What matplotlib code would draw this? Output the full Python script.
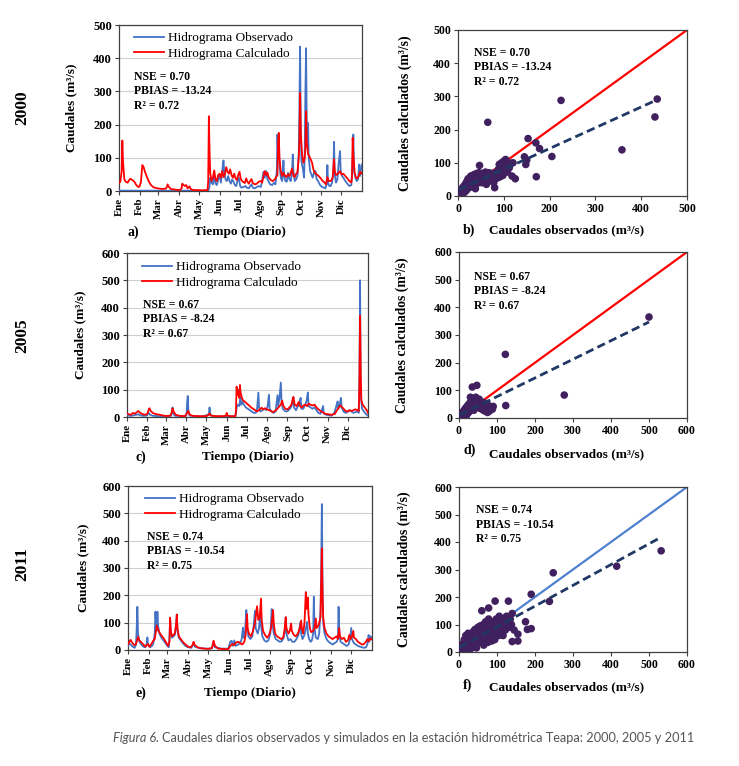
import matplotlib
matplotlib.use('Agg')
import matplotlib.pyplot as plt

W, H = 739, 766
DPI = 100

# ---------------- data ----------------
months = ['Ene', 'Feb', 'Mar', 'Abr', 'May', 'Jun', 'Jul', 'Ago', 'Sep', 'Oct', 'Nov', 'Dic']
month_start = [0, 31, 59, 90, 120, 151, 181, 212, 243, 273, 304, 334]

obs_2000 = [(0, 1), (60, 1), (134, 1), (135, 5), (136, 15), (137, 40), (139, 25), (141, 20), (143, 45), (145, 22),
            (147, 18), (149, 35), (151, 50), (153, 25), (155, 55), (156, 80), (157, 92), (158, 55), (160, 35),
            (162, 30), (164, 45), (166, 30), (168, 22), (170, 35), (172, 28), (174, 18), (176, 15), (178, 30),
            (180, 40), (182, 15), (184, 10), (187, 12), (190, 15), (192, 10), (195, 8), (197, 15), (199, 20),
            (201, 10), (204, 8), (207, 12), (210, 15), (213, 12), (215, 30), (217, 58), (219, 40), (221, 60),
            (223, 35), (225, 28), (227, 20), (230, 18), (233, 25), (235, 20), (237, 60), (238, 170), (239, 100),
            (240, 172), (241, 80), (243, 40), (245, 30), (246, 50), (247, 92), (248, 45), (250, 30), (252, 28),
            (254, 55), (256, 35), (258, 30), (260, 60), (261, 110), (262, 60), (264, 30), (266, 35), (268, 45),
            (270, 115), (271, 250), (272, 435), (273, 200), (274, 90), (276, 70), (278, 40), (279, 120),
            (280, 300), (281, 430), (282, 200), (283, 150), (284, 205), (285, 100), (287, 60), (289, 50),
            (291, 40), (293, 55), (295, 60), (297, 35), (299, 30), (302, 18), (305, 12), (308, 10), (310, 8),
            (312, 20), (313, 78), (314, 25), (316, 15), (318, 15), (320, 25), (322, 60), (323, 148), (324, 50),
            (326, 25), (328, 35), (330, 85), (332, 120), (333, 60), (335, 45), (337, 40), (340, 30), (343, 22),
            (346, 15), (349, 18), (351, 100), (352, 170), (353, 60), (355, 40), (357, 30), (359, 35), (361, 80),
            (362, 45), (364, 70), (365, 80)]

calc_2000 = [(0, 25), (2, 28), (4, 60), (5, 152), (6, 90), (8, 35), (10, 28), (13, 25), (15, 32), (17, 37),
             (20, 33), (23, 28), (26, 18), (29, 12), (31, 14), (33, 28), (35, 78), (37, 72), (39, 58), (42, 42),
             (45, 28), (48, 18), (52, 11), (58, 8), (65, 6), (70, 7), (72, 12), (73, 20), (75, 12), (78, 6),
             (85, 4), (92, 3), (94, 8), (95, 22), (97, 18), (99, 15), (101, 18), (103, 8), (105, 12), (106, 14),
             (108, 5), (112, 3), (125, 2), (133, 3), (134, 30), (135, 225), (136, 120), (137, 55), (139, 30),
             (141, 40), (143, 62), (145, 35), (147, 30), (149, 48), (151, 52), (153, 40), (155, 60), (157, 42),
             (159, 50), (161, 72), (163, 58), (165, 52), (167, 65), (169, 48), (171, 40), (173, 52), (175, 38),
             (177, 33), (179, 48), (181, 58), (183, 35), (186, 28), (189, 24), (191, 38), (193, 28), (195, 22),
             (197, 30), (199, 36), (201, 24), (204, 20), (207, 22), (210, 28), (213, 30), (215, 25), (217, 45),
             (219, 60), (221, 48), (223, 55), (225, 40), (228, 33), (231, 30), (234, 35), (236, 42), (238, 48),
             (239, 150), (240, 175), (241, 100), (243, 60), (245, 45), (247, 55), (249, 48), (251, 42), (254, 50),
             (256, 45), (258, 55), (260, 68), (262, 45), (264, 42), (266, 52), (268, 55), (270, 100), (271, 150),
             (272, 295), (273, 180), (275, 110), (277, 85), (279, 100), (280, 130), (281, 240), (282, 150),
             (284, 110), (286, 105), (288, 95), (290, 85), (292, 65), (294, 55), (297, 50), (300, 45), (303, 38),
             (306, 30), (309, 25), (311, 20), (313, 42), (315, 30), (318, 30), (321, 40), (323, 95), (324, 60),
             (326, 48), (329, 52), (332, 60), (334, 50), (337, 52), (340, 45), (343, 38), (346, 30), (349, 26),
             (350, 40), (351, 160), (352, 110), (354, 55), (356, 40), (358, 38), (360, 45), (362, 58), (364, 52),
             (365, 55)]

obs_2005 = [(0, 8), (3, 5), (6, 4), (10, 6), (14, 8), (17, 10), (20, 6), (25, 4), (30, 5), (33, 15), (35, 8),
            (40, 4), (50, 3), (60, 2), (67, 5), (68, 20), (69, 35), (70, 15), (72, 5), (80, 3), (90, 5), (91, 50),
            (92, 77), (93, 20), (95, 5), (105, 3), (115, 2), (124, 10), (125, 35), (126, 10), (130, 3), (145, 2),
            (150, 3), (151, 8), (152, 3), (164, 2), (165, 10), (166, 35), (168, 45), (170, 40), (172, 73),
            (173, 45), (175, 55), (177, 45), (180, 35), (183, 30), (186, 25), (189, 20), (192, 15), (195, 15),
            (197, 30), (199, 89), (200, 35), (202, 20), (205, 25), (208, 30), (211, 25), (213, 40), (215, 82),
            (216, 30), (219, 20), (222, 15), (225, 20), (228, 80), (229, 40), (231, 70), (233, 126), (234, 60),
            (236, 30), (239, 22), (242, 20), (245, 25), (248, 35), (250, 45), (252, 73), (253, 35), (256, 25),
            (259, 40), (261, 50), (263, 70), (264, 30), (267, 30), (270, 45), (272, 60), (274, 90), (275, 40),
            (278, 35), (281, 30), (284, 35), (287, 25), (290, 15), (293, 12), (295, 25), (297, 40), (298, 12),
            (302, 8), (306, 6), (310, 5), (314, 15), (317, 40), (319, 57), (320, 30), (322, 45), (324, 70),
            (325, 35), (328, 20), (331, 15), (334, 18), (337, 25), (340, 20), (343, 15), (346, 18), (349, 20),
            (351, 15), (352, 150), (353, 500), (354, 80), (356, 30), (359, 20), (362, 10), (365, 5)]

calc_2005 = [(0, 13), (3, 10), (6, 8), (9, 15), (12, 12), (15, 18), (17, 22), (20, 15), (24, 10), (28, 8),
             (31, 12), (33, 28), (34, 32), (36, 22), (39, 15), (42, 12), (45, 10), (50, 8), (55, 5), (60, 4),
             (66, 5), (68, 20), (69, 32), (71, 18), (74, 8), (80, 4), (88, 3), (91, 15), (93, 22), (95, 8),
             (100, 4), (110, 3), (120, 3), (124, 8), (125, 13), (127, 5), (135, 3), (145, 3), (150, 5), (151, 15),
             (152, 5), (158, 3), (164, 3), (165, 20), (166, 111), (167, 80), (169, 98), (170, 70), (171, 117),
             (172, 90), (174, 70), (176, 60), (179, 55), (182, 48), (185, 42), (188, 35), (191, 30), (194, 25),
             (197, 20), (199, 24), (202, 30), (204, 34), (206, 28), (209, 32), (212, 28), (215, 25), (218, 22),
             (221, 18), (224, 22), (227, 28), (230, 37), (233, 45), (235, 60), (237, 40), (240, 30), (243, 28),
             (246, 35), (249, 45), (251, 65), (252, 73), (254, 45), (257, 40), (260, 55), (262, 40), (265, 35),
             (267, 42), (270, 45), (273, 40), (275, 49), (278, 45), (281, 42), (284, 45), (287, 35), (290, 28),
             (293, 22), (296, 18), (300, 12), (305, 10), (310, 8), (315, 12), (318, 25), (321, 35), (323, 42),
             (325, 38), (328, 30), (331, 22), (334, 20), (337, 25), (340, 22), (343, 25), (346, 28), (349, 25),
             (351, 22), (352, 120), (353, 370), (354, 150), (355, 60), (357, 45), (360, 35), (363, 25), (365, 15)]

obs_2011 = [(0, 15), (2, 25), (4, 20), (7, 12), (10, 8), (12, 20), (13, 80), (14, 158), (15, 60), (17, 30),
            (20, 20), (23, 12), (26, 10), (28, 25), (29, 46), (30, 20), (33, 10), (36, 15), (38, 25), (40, 60),
            (41, 140), (42, 100), (43, 70), (44, 140), (45, 90), (47, 60), (50, 45), (53, 35), (56, 25), (59, 15),
            (61, 10), (62, 40), (63, 115), (64, 60), (66, 45), (68, 50), (70, 55), (72, 90), (73, 128), (74, 70),
            (76, 45), (79, 35), (82, 25), (86, 15), (90, 10), (95, 8), (98, 25), (100, 12), (105, 8), (115, 5),
            (125, 5), (128, 30), (130, 10), (140, 5), (150, 5), (153, 30), (155, 34), (157, 15), (159, 35),
            (161, 15), (165, 20), (168, 25), (170, 40), (172, 82), (173, 45), (175, 60), (177, 146), (178, 90),
            (180, 50), (183, 40), (186, 50), (188, 90), (190, 144), (191, 80), (194, 60), (196, 80), (198, 140),
            (199, 90), (201, 50), (204, 35), (207, 30), (210, 35), (213, 60), (215, 150), (216, 100), (218, 60),
            (221, 40), (224, 35), (227, 30), (230, 32), (233, 45), (235, 80), (236, 120), (237, 60), (240, 35),
            (243, 40), (246, 30), (249, 30), (252, 40), (255, 55), (258, 103), (259, 60), (261, 40), (264, 55),
            (266, 80), (268, 103), (269, 60), (271, 40), (273, 30), (275, 35), (277, 60), (278, 195), (279, 80),
            (281, 45), (284, 40), (286, 60), (288, 150), (289, 300), (290, 534), (291, 250), (292, 100), (294, 60),
            (297, 40), (300, 30), (303, 25), (306, 20), (309, 25), (312, 30), (314, 40), (315, 158), (316, 60),
            (318, 30), (321, 25), (324, 20), (327, 15), (330, 20), (332, 40), (334, 81), (335, 40), (338, 25),
            (341, 20), (344, 15), (347, 12), (350, 10), (353, 8), (356, 10), (358, 20), (360, 55), (361, 30),
            (363, 50), (365, 40)]

calc_2011 = [(0, 20), (2, 30), (4, 37), (6, 28), (9, 18), (12, 22), (14, 40), (15, 48), (17, 35), (20, 28),
             (23, 20), (26, 12), (28, 18), (30, 22), (32, 12), (35, 22), (38, 35), (40, 40), (42, 70), (43, 90),
             (45, 75), (48, 60), (51, 50), (54, 40), (57, 28), (60, 15), (62, 30), (63, 118), (64, 70), (66, 50),
             (68, 55), (70, 60), (72, 95), (73, 130), (74, 80), (76, 50), (79, 40), (82, 30), (86, 20), (90, 12),
             (94, 10), (97, 20), (98, 30), (100, 18), (104, 10), (110, 6), (120, 4), (126, 8), (128, 34), (130, 15),
             (135, 5), (145, 3), (150, 3), (153, 15), (156, 22), (159, 18), (162, 28), (165, 30), (168, 25),
             (171, 20), (174, 30), (176, 55), (178, 131), (179, 80), (181, 60), (184, 50), (187, 70), (190, 100),
             (193, 160), (195, 110), (197, 120), (199, 188), (200, 110), (202, 70), (205, 55), (208, 45), (211, 55),
             (214, 80), (216, 120), (217, 146), (218, 100), (220, 60), (223, 50), (226, 45), (229, 40), (232, 45),
             (234, 70), (236, 120), (237, 80), (240, 60), (242, 70), (244, 97), (245, 70), (248, 55), (251, 50),
             (254, 60), (257, 80), (259, 108), (260, 80), (262, 60), (264, 100), (266, 212), (267, 150), (269, 192),
             (270, 130), (272, 80), (274, 65), (277, 70), (279, 80), (281, 115), (282, 80), (285, 90), (288, 120),
             (289, 250), (290, 372), (291, 200), (292, 120), (294, 80), (297, 60), (300, 50), (303, 45), (306, 40),
             (309, 45), (312, 50), (314, 40), (315, 60), (316, 80), (317, 50), (320, 40), (323, 45), (326, 30),
             (329, 35), (331, 55), (333, 40), (335, 50), (337, 70), (338, 45), (341, 40), (344, 30), (347, 25),
             (350, 20), (353, 22), (356, 30), (358, 40), (360, 32), (362, 42), (365, 38)]

scatter_2000 = [(2, 3), (4, 8), (5, 15), (6, 5), (8, 12), (9, 20), (10, 25), (11, 8), (12, 18), (13, 30), (14, 22),
                (15, 12), (16, 35), (17, 28), (18, 40), (19, 18), (20, 45), (21, 30), (22, 52), (23, 38), (24, 25),
                (25, 48), (26, 55), (27, 35), (28, 60), (29, 42), (30, 28), (31, 50), (32, 62), (33, 45), (34, 35),
                (35, 55), (36, 65), (37, 40), (38, 22), (39, 58), (40, 48), (41, 68), (42, 38), (43, 55), (44, 62),
                (45, 45), (46, 70), (47, 92), (48, 52), (50, 60), (52, 40), (53, 68), (55, 55), (56, 48), (58, 62),
                (60, 72), (61, 50), (62, 35), (63, 58), (65, 222), (65, 65), (67, 45), (68, 70), (70, 55), (72, 62),
                (73, 48), (75, 68), (77, 58), (78, 40), (80, 25), (80, 65), (82, 52), (84, 72), (85, 60), (87, 55),
                (88, 80), (90, 95), (90, 65), (92, 58), (94, 85), (95, 100), (96, 70), (98, 62), (100, 105),
                (100, 90), (102, 78), (104, 110), (106, 95), (108, 72), (110, 100), (112, 85), (115, 98), (118, 60),
                (120, 100), (125, 52), (145, 118), (148, 95), (150, 108), (153, 173), (170, 160), (171, 58),
                (178, 143), (205, 119), (225, 288), (358, 139), (430, 238), (435, 292)]

scatter_2005 = [(1, 2), (2, 5), (3, 1), (4, 8), (5, 3), (6, 12), (7, 6), (8, 15), (9, 4), (10, 20), (11, 10),
                (12, 25), (13, 7), (14, 18), (15, 30), (16, 12), (17, 35), (18, 22), (19, 8), (20, 40), (21, 28),
                (22, 15), (23, 45), (24, 32), (25, 20), (26, 50), (27, 38), (28, 25), (29, 55), (30, 75), (31, 42),
                (32, 30), (33, 60), (34, 48), (35, 112), (36, 35), (37, 65), (38, 52), (39, 28), (40, 70), (41, 45),
                (42, 58), (43, 38), (44, 75), (45, 50), (46, 62), (47, 118), (48, 40), (50, 55), (52, 45), (53, 68),
                (55, 35), (56, 50), (58, 42), (60, 58), (62, 30), (63, 48), (65, 38), (66, 55), (68, 25), (70, 45),
                (72, 35), (74, 52), (75, 20), (76, 30), (78, 42), (80, 25), (82, 38), (85, 40), (88, 32), (90, 42),
                (122, 230), (123, 45), (277, 83), (500, 365)]

scatter_2011 = [(2, 5), (4, 12), (5, 2), (6, 20), (8, 8), (10, 30), (12, 15), (14, 45), (15, 5), (16, 25),
                (18, 60), (18, 35), (20, 12), (22, 42), (24, 68), (25, 22), (26, 50), (28, 30), (30, 58), (30, 10),
                (32, 40), (34, 65), (35, 20), (36, 48), (38, 75), (40, 55), (40, 30), (42, 82), (44, 45), (45, 62),
                (46, 15), (48, 70), (50, 90), (50, 50), (52, 35), (54, 78), (55, 60), (56, 95), (58, 42), (60, 70),
                (60, 150), (62, 85), (63, 55), (64, 100), (65, 25), (66, 65), (68, 90), (70, 110), (70, 48), (72, 75),
                (74, 60), (75, 95), (76, 35), (78, 120), (78, 160), (80, 80), (82, 55), (84, 100), (85, 70), (86, 40),
                (88, 90), (90, 110), (90, 60), (92, 75), (94, 45), (95, 185), (96, 95), (98, 120), (100, 70),
                (100, 100), (102, 85), (105, 60), (106, 130), (108, 95), (110, 75), (112, 110), (115, 90), (116, 60),
                (118, 120), (120, 100), (122, 80), (125, 130), (128, 110), (130, 185), (132, 90), (135, 120),
                (138, 100), (140, 140), (140, 38), (145, 80), (155, 65), (155, 40), (175, 110), (180, 82), (190, 85),
                (190, 210), (238, 184), (248, 288), (415, 312), (532, 368)]

# trend lines: (value at x=0, value at x end, x end)
trend_2000 = (18, 290, 435)
trend_2005 = (10, 347, 500)
trend_2011 = (16, 416, 530)

stats_2000 = ['NSE = 0.70', 'PBIAS = -13.24', 'R\u00b2 = 0.72']
stats_2005 = ['NSE = 0.67', 'PBIAS = -8.24', 'R\u00b2 = 0.67']
stats_2011 = ['NSE = 0.74', 'PBIAS = -10.54', 'R\u00b2 = 0.75']

years = ['2000', '2005', '2011']

# ---------------- style ----------------
SERIF = 'Liberation Serif'
BLUE = '#4472c4'
RED = '#ff0000'
DOT = '#41205f'
NAVY = '#1f3864'
LINE11_F = '#4f81d0'
SPINE = '#404040'

plt.rcParams['font.family'] = SERIF

fig = plt.figure(figsize=(W / DPI, H / DPI), dpi=DPI)


def rect(x0, x1, y0, y1):
    return [x0 / W, 1 - y1 / H, (x1 - x0) / W, (y1 - y0) / H]


def ftext(x, y, s, **kw):
    return fig.text(x / W, 1 - y / H, s, **kw)


def style_axes(ax, tick_fs):
    for sp in ax.spines.values():
        sp.set_color(SPINE)
        sp.set_linewidth(0.9)
    ax.tick_params(direction='out', length=3, width=0.8, color=SPINE, pad=2)
    for lab in ax.get_xticklabels() + ax.get_yticklabels():
        lab.set_fontweight('bold')
        lab.set_fontsize(tick_fs)


def hydro(box, obs, calc, ymax, ylab_off, leg_off):
    x0, x1, y0, y1 = box
    ax = fig.add_axes(rect(*box))
    d, v = zip(*obs)
    ax.plot(d, v, color=BLUE, lw=1.3, label='Hidrograma Observado', zorder=3)
    d, v = zip(*calc)
    ax.plot(d, v, color=RED, lw=1.3, label='Hidrograma Calculado', zorder=4)
    ax.set_xlim(0, 365)
    ax.set_ylim(0, ymax)
    ax.set_yticks(range(0, ymax + 1, 100))
    ax.set_xticks(month_start)
    ax.set_xticklabels(months, rotation=90)
    ax.yaxis.grid(True, color='#d0d0d0', lw=0.8)
    ax.set_axisbelow(True)
    style_axes(ax, 9)
    for lab in ax.get_xticklabels():
        lab.set_fontsize(7.8)
    ax.set_ylabel('Caudales (m\u00b3/s)', fontsize=9.5, fontweight='bold')
    ax.yaxis.set_label_coords(-ylab_off / (x1 - x0), 0.5)
    lx, ly = leg_off
    ax.legend(loc='upper left', bbox_to_anchor=(lx / (x1 - x0), 1 - ly / (y1 - y0)),
              frameon=False, fontsize=9.5, handlelength=2.3, handletextpad=0.25,
              borderpad=0, borderaxespad=0, labelspacing=0.25)
    return ax


def scat(box, pts, lim, line_color, trend, ylab_off):
    x0, x1, y0, y1 = box
    ax = fig.add_axes(rect(*box))
    ax.plot([0, lim], [0, lim], color=line_color, lw=1.6, zorder=2)
    xs, ys = zip(*pts)
    ax.scatter(xs, ys, s=30, color=DOT, edgecolors='none', zorder=3)
    b0, b1, xe = trend
    ax.plot([2, xe], [b0 + (b1 - b0) * 2 / xe, b1], color=NAVY, lw=2.0, ls=(0, (3, 1.6)), zorder=4)
    ax.set_xlim(0, lim)
    ax.set_ylim(0, lim)
    ax.set_xticks(range(0, lim + 1, 100))
    ax.set_yticks(range(0, lim + 1, 100))
    style_axes(ax, 8.5)
    ax.set_ylabel('Caudales calculados (m\u00b3/s)', fontsize=9.8, fontweight='bold')
    ax.yaxis.set_label_coords(-ylab_off / (x1 - x0), 0.5)
    return ax


def stats_block(x, y, lines):
    for i, s in enumerate(lines):
        ftext(x, y + i * 14.5, s, fontsize=8.5, fontweight='bold', va='center', ha='left')


# ---------- row 1 (2000) ----------
hydro((119, 362, 25, 191), obs_2000, calc_2000, 500, 42, (15, 7))
stats_block(134, 77, stats_2000)
ftext(128, 232, 'a)', fontsize=10, fontweight='bold', va='center')
ftext(240, 232, 'Tiempo (Diario)', fontsize=9.5, fontweight='bold', va='center', ha='center')

scat((458, 687, 30, 196), scatter_2000, 500, RED, trend_2000, 46)
stats_block(474, 53, stats_2000)
ftext(463, 230, 'b)', fontsize=10, fontweight='bold', va='center')
ftext(567, 230, 'Caudales observados (m\u00b3/s)', fontsize=9.5, fontweight='bold', va='center', ha='center')

# ---------- row 2 (2005) ----------
hydro((127, 368, 253, 417), obs_2005, calc_2005, 600, 41, (15, 8))
stats_block(143, 305, stats_2005)
ftext(136, 457, 'c)', fontsize=10, fontweight='bold', va='center')
ftext(248, 457, 'Tiempo (Diario)', fontsize=9.5, fontweight='bold', va='center', ha='center')

scat((459, 687, 252, 418), scatter_2005, 600, RED, trend_2005, 50)
stats_block(474, 277, stats_2005)
ftext(463, 450, 'd)', fontsize=10, fontweight='bold', va='center')
ftext(567, 454, 'Caudales observados (m\u00b3/s)', fontsize=9.5, fontweight='bold', va='center', ha='center')

# ---------- row 3 (2011) ----------
hydro((128, 372, 486, 650), obs_2011, calc_2011, 600, 39, (17, 7))
stats_block(147, 537, stats_2011)
ftext(136, 693, 'e)', fontsize=10, fontweight='bold', va='center')
ftext(250, 693, 'Tiempo (Diario)', fontsize=9.5, fontweight='bold', va='center', ha='center')

scat((459, 687, 487, 652), scatter_2011, 600, LINE11_F, trend_2011, 48)
stats_block(476, 510, stats_2011)
ftext(463, 685, 'f)', fontsize=10, fontweight='bold', va='center')
ftext(567, 687, 'Caudales observados (m\u00b3/s)', fontsize=9.5, fontweight='bold', va='center', ha='center')

# ---------- year labels ----------
for yr, yc in zip(years, [108, 336, 564]):
    ftext(22, yc, yr, fontsize=12.5, fontweight='bold', rotation=90, va='center', ha='center')

# ---------- caption ----------
cap_font = ['Lato', 'DejaVu Sans']
t1 = ftext(113, 738, 'Figura 6.', fontsize=10, style='italic', color='#555555', va='center',
           ha='left', family=cap_font)
fig.canvas.draw()
r = fig.canvas.get_renderer()
bb = t1.get_window_extent(r)
x_next = bb.x1 + 3.5
t2 = fig.text(x_next / W, 1 - 738 / H,
              'Caudales diarios observados y simulados en la estaci\u00f3n hidrom\u00e9trica Teapa: 2000, 2005 y 2011',
              fontsize=10, color='#555555', va='center', ha='left', family=cap_font)
bb2 = t2.get_window_extent(r)
# fit overall caption width to the reference span (113 -> 697 px)
scale = (697 - 113) / (bb2.x1 - 113)
for t in (t1, t2):
    t.set_fontsize(10 * scale)
fig.canvas.draw()
bb = t1.get_window_extent(r)
t2.set_x((bb.x1 + 3.5 * scale) / W)

fig.savefig('out.png', dpi=DPI)
